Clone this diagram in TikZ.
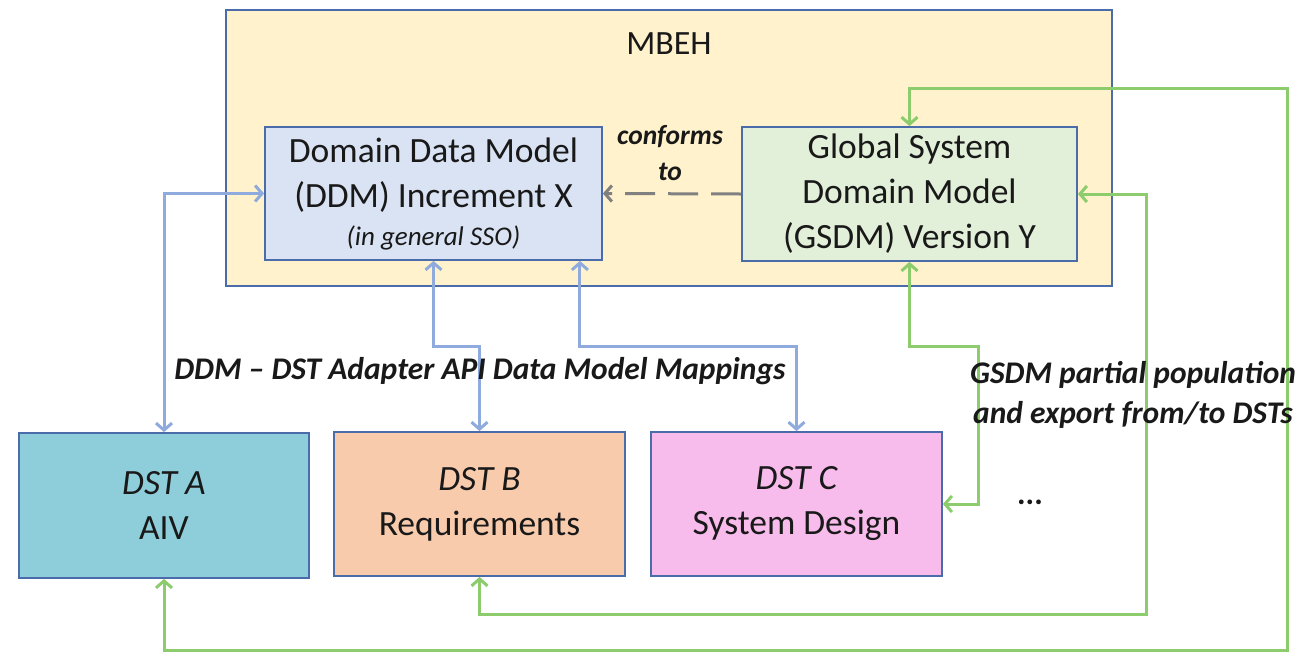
\documentclass[tikz,border=0pt]{standalone}
\usepackage{fontspec}
\setmainfont{Carlito}
\usetikzlibrary{arrows.meta,calc}
\definecolor{mbehfill}{RGB}{255,242,204}
\definecolor{boxline}{RGB}{74,108,170}
\definecolor{ddmfill}{RGB}{218,227,243}
\definecolor{gsdmfill}{RGB}{226,240,217}
\definecolor{dstafill}{RGB}{142,206,219}
\definecolor{dstbfill}{RGB}{248,203,173}
\definecolor{dstcfill}{RGB}{248,188,236}
\definecolor{bluearr}{RGB}{143,170,220}
\definecolor{greenarr}{RGB}{140,204,108}
\definecolor{grayarr}{RGB}{128,128,128}
\definecolor{txt}{RGB}{25,25,25}
\tikzset{
  boxstyle/.style={draw=boxline, line width=1.8pt, inner sep=0pt, align=center, text=txt},
  bigfont/.style={font=\fontsize{35.5}{45}\selectfont},
  lblfont/.style={font=\fontsize{31.5}{40}\selectfont\bfseries\itshape, text=txt, align=center},
  bluecon/.style={draw=bluearr, line width=3pt, {Straight Barb[length=7pt,width=16pt]}-{Straight Barb[length=7pt,width=16pt]}},
  greencon/.style={draw=greenarr, line width=3pt, {Straight Barb[length=7pt,width=16pt]}-{Straight Barb[length=7pt,width=16pt]}},
}
\begin{document}
\begin{tikzpicture}[x=1pt,y=-1pt]
\useasboundingbox (0,0) rectangle (1304,654);
% MBEH container
\node[boxstyle, fill=mbehfill, minimum width=886pt, minimum height=276pt] (mbeh) at (669,148) {};
\node[font=\fontsize{34}{40}\selectfont, text=txt] (mbehlbl) at (669,44) {MBEH};
% inner boxes
\node[boxstyle, fill=ddmfill, minimum width=337pt, minimum height=133pt, bigfont] (ddm) at (433.5,193.5)
  {Domain Data Model\\(DDM) Increment X\\[-7pt]{\fontsize{27}{32}\selectfont\itshape (in general SSO)}};
\node[boxstyle, fill=gsdmfill, minimum width=335pt, minimum height=134pt, bigfont] (gsdm) at (909.5,194)
  {Global System\\Domain Model\\(GSDM) Version Y};
% DST boxes
\node[boxstyle, fill=dstafill, minimum width=290pt, minimum height=145pt, bigfont] (dsta) at (164,505.5)
  {\itshape DST A\\AIV};
\node[boxstyle, fill=dstbfill, minimum width=291pt, minimum height=144pt, bigfont] (dstb) at (479.5,504)
  {\itshape DST B\\Requirements};
\node[boxstyle, fill=dstcfill, minimum width=291pt, minimum height=144pt, bigfont] (dstc) at (796.5,504)
  {\itshape DST C\\System Design};
\node[font=\fontsize{32}{36}\selectfont\bfseries, text=txt] (dots) at (1030,502) {...};
% conforms to
\draw[draw=grayarr, line width=3pt, dash pattern=on 30pt off 13pt, -{Straight Barb[length=7pt,width=16pt]}] (gsdm.west) -- (ddm.east);
\node[font=\fontsize{27.5}{36}\selectfont\bfseries\itshape, text=txt, align=center] (conf) at (670,153) {conforms\\to};
% blue mappings
\draw[bluecon] (ddm.west) -| (dsta.north);
\draw[bluecon] (ddm.south) -- ++(0,86) -| (dstb.north);
\draw[bluecon] ([xshift=-23pt]ddm.south east) -- ++(0,86) -| (dstc.north);
\node[lblfont] (maplbl) at (480,371) {DDM -- DST Adapter API Data Model Mappings};
% green population
\coordinate (g1a) at (1287,88);
\coordinate (g1b) at (1287,650);
\coordinate (g2) at (1146,614);
\draw[greencon] (gsdm.north) |- (g1a) -- (g1b) -| (dsta.south);
\draw[greencon] (gsdm.east) -| (g2) -| (dstb.south);
\draw[greencon] (gsdm.south) -- ++(0,85) -- ++(69,0) |- (dstc.east);
\node[lblfont] (poplbl) at (1133,395) {GSDM partial population\\and export from/to DSTs};
\end{tikzpicture}
\end{document}
